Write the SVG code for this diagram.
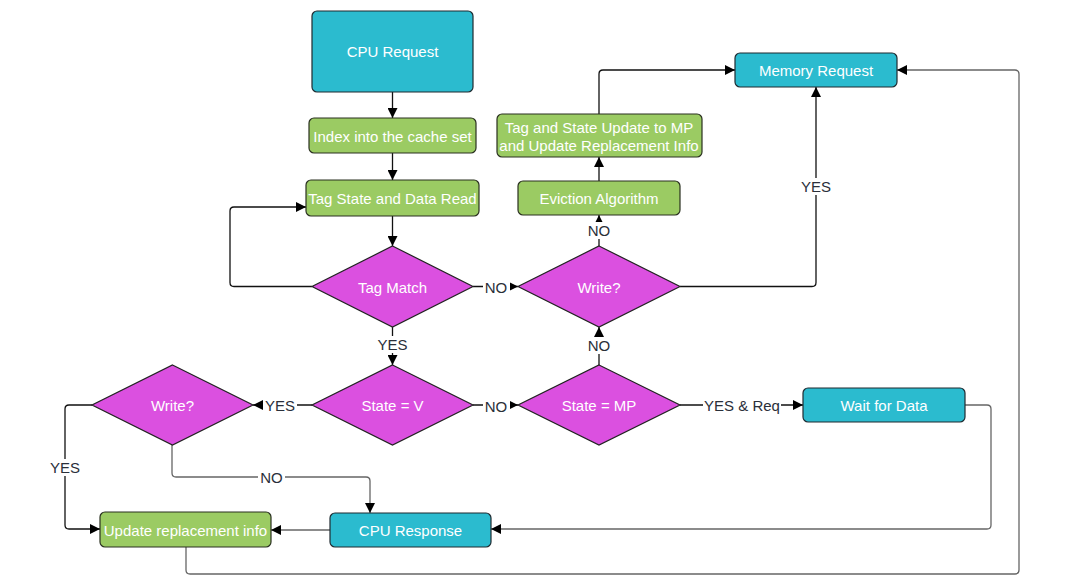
<svg xmlns="http://www.w3.org/2000/svg" width="1081" height="586" viewBox="0 0 1081 586">
  <style>
    .teal { fill: #2bbbcf; stroke: #1f2a30; stroke-width: 1.2; }
    .green { fill: #9bcb63; stroke: #2a3020; stroke-width: 1.2; }
    .dia { fill: #db50e0; stroke: #222; stroke-width: 1.2; }
    .lbl { font-family: "Liberation Sans", Arial, sans-serif; font-size: 15px; fill: #ffffff; text-anchor: middle; dominant-baseline: central; }
    .elbl { font-family: "Liberation Sans", Arial, sans-serif; font-size: 15px; fill: #2a2f3a; text-anchor: middle; dominant-baseline: central; }
    .edge { fill: none; stroke: #111; stroke-width: 1.3; stroke-linejoin: round; }
    .edge.gray { stroke: #666; }
    .bg { fill: #ffffff; }
  </style>
  <defs>
    <marker id="arrow" viewBox="0 0 10 10" refX="10" refY="5" markerWidth="10" markerHeight="10" markerUnits="userSpaceOnUse" orient="auto">
      <path d="M0,0 L10,5 L0,10 Z" fill="#000"/>
    </marker>
  </defs>
  <rect width="1081" height="586" fill="#ffffff"/>

  <g id="connectors">
    <!-- main flow -->
    <path class="edge" d="M392.5,92 V118" marker-end="url(#arrow)"/>
    <path class="edge" d="M392.5,153 V180" marker-end="url(#arrow)"/>
    <path class="edge" d="M392.5,216 V246" marker-end="url(#arrow)"/>
    <!-- retry loop back to tag read -->
    <path class="edge" d="M312,286.5 H234 Q230,286.5 230,282.5 V211 Q230,207 234,207 H306" marker-end="url(#arrow)"/>
    <!-- miss path -->
    <path class="edge" d="M473,286.5 H518" marker-end="url(#arrow)"/>
    <path class="edge" d="M599,246 V215" marker-end="url(#arrow)"/>
    <path class="edge" d="M599,181 V157" marker-end="url(#arrow)"/>
    <path class="edge" d="M599,114 V74 Q599,70 603,70 H735" marker-end="url(#arrow)"/>
    <path class="edge" d="M680,286.5 H812 Q816,286.5 816,282.5 V87" marker-end="url(#arrow)"/>
    <!-- hit path -->
    <path class="edge" d="M392.5,327 V365" marker-end="url(#arrow)"/>
    <path class="edge" d="M312,405 H253" marker-end="url(#arrow)"/>
    <path class="edge" d="M473,405 H518" marker-end="url(#arrow)"/>
    <path class="edge" d="M599,365 V327" marker-end="url(#arrow)"/>
    <path class="edge" d="M680,405 H803" marker-end="url(#arrow)"/>
    <path class="edge" d="M92,405 H69 Q65,405 65,409 V525 Q65,529 69,529 H100" marker-end="url(#arrow)"/>
    <path class="edge gray" d="M172,445 V473 Q172,477 176,477 H366 Q370,477 370,481 V513" marker-end="url(#arrow)"/>
    <path class="edge gray" d="M330,530 H271" marker-end="url(#arrow)"/>
    <path class="edge gray" d="M965,405 H987 Q991,405 991,409 V525 Q991,529 987,529 H491" marker-end="url(#arrow)"/>
    <path class="edge gray" d="M186,547 V570 Q186,574 190,574 H1015 Q1019,574 1019,570 V74 Q1019,70 1015,70 H897" marker-end="url(#arrow)"/>

    <!-- edge labels -->
    <rect class="bg" x="483" y="278" width="27" height="17"/>
    <text class="elbl" x="496" y="287">NO</text>
    <rect class="bg" x="586" y="222" width="27" height="17"/>
    <text class="elbl" x="599" y="230.5">NO</text>
    <rect class="bg" x="799" y="178" width="34" height="17"/>
    <text class="elbl" x="816" y="186.5">YES</text>
    <rect class="bg" x="375" y="336" width="35" height="17"/>
    <text class="elbl" x="392.5" y="344.5">YES</text>
    <rect class="bg" x="586" y="337" width="27" height="17"/>
    <text class="elbl" x="599" y="345.5">NO</text>
    <rect class="bg" x="263" y="397" width="34" height="17"/>
    <text class="elbl" x="280" y="405.5">YES</text>
    <rect class="bg" x="483" y="397" width="27" height="17"/>
    <text class="elbl" x="496" y="406">NO</text>
    <rect class="bg" x="703" y="397" width="78" height="17"/>
    <text class="elbl" x="742" y="405.5">YES &amp; Req</text>
    <rect class="bg" x="48" y="459" width="34" height="17"/>
    <text class="elbl" x="65" y="467.5">YES</text>
    <rect class="bg" x="258" y="469" width="27" height="17"/>
    <text class="elbl" x="271.5" y="477">NO</text>
  </g>

  <g id="cpu-request">
    <rect class="teal" x="312" y="11" width="161" height="81" rx="5"/>
    <text class="lbl" x="392.5" y="51.5">CPU Request</text>
  </g>
  <g id="index-set">
    <rect class="green" x="309" y="118" width="167" height="35" rx="5"/>
    <text class="lbl" x="392.5" y="136">Index into the cache set</text>
  </g>
  <g id="tag-read">
    <rect class="green" x="306" y="180" width="173" height="36" rx="5"/>
    <text class="lbl" x="392.5" y="198.5">Tag State and Data Read</text>
  </g>
  <g id="tag-match">
    <polygon class="dia" points="392.5,246 473,286.5 392.5,327 312,286.5"/>
    <text class="lbl" x="392.5" y="287">Tag Match</text>
  </g>
  <g id="write-miss">
    <polygon class="dia" points="599,246 680,286.5 599,327 518,286.5"/>
    <text class="lbl" x="599" y="287">Write?</text>
  </g>
  <g id="eviction">
    <rect class="green" x="518" y="181" width="162" height="34" rx="5"/>
    <text class="lbl" x="599" y="198.5">Eviction Algorithm</text>
  </g>
  <g id="tag-update">
    <rect class="green" x="497" y="114" width="205" height="43" rx="5"/>
    <text class="lbl" x="599" y="127.5">Tag and State Update to MP</text>
    <text class="lbl" x="599" y="145">and Update Replacement Info</text>
  </g>
  <g id="memory-request">
    <rect class="teal" x="735" y="53" width="162" height="34" rx="5"/>
    <text class="lbl" x="816" y="70.5">Memory Request</text>
  </g>
  <g id="state-v">
    <polygon class="dia" points="392.5,365 473,405 392.5,445 312,405"/>
    <text class="lbl" x="392.5" y="405.5">State = V</text>
  </g>
  <g id="state-mp">
    <polygon class="dia" points="599,365 680,405 599,445 518,405"/>
    <text class="lbl" x="599" y="405.5">State = MP</text>
  </g>
  <g id="write-hit">
    <polygon class="dia" points="172.5,365 253,405 172.5,445 92,405"/>
    <text class="lbl" x="172.5" y="405.5">Write?</text>
  </g>
  <g id="wait-data">
    <rect class="teal" x="803" y="388" width="162" height="34" rx="5"/>
    <text class="lbl" x="884" y="405.5">Wait for Data</text>
  </g>
  <g id="cpu-response">
    <rect class="teal" x="330" y="513" width="161" height="34" rx="5"/>
    <text class="lbl" x="410.5" y="530.5">CPU Response</text>
  </g>
  <g id="update-repl">
    <rect class="green" x="100" y="512" width="171" height="35" rx="5"/>
    <text class="lbl" x="185.5" y="530">Update replacement info</text>
  </g>
</svg>
